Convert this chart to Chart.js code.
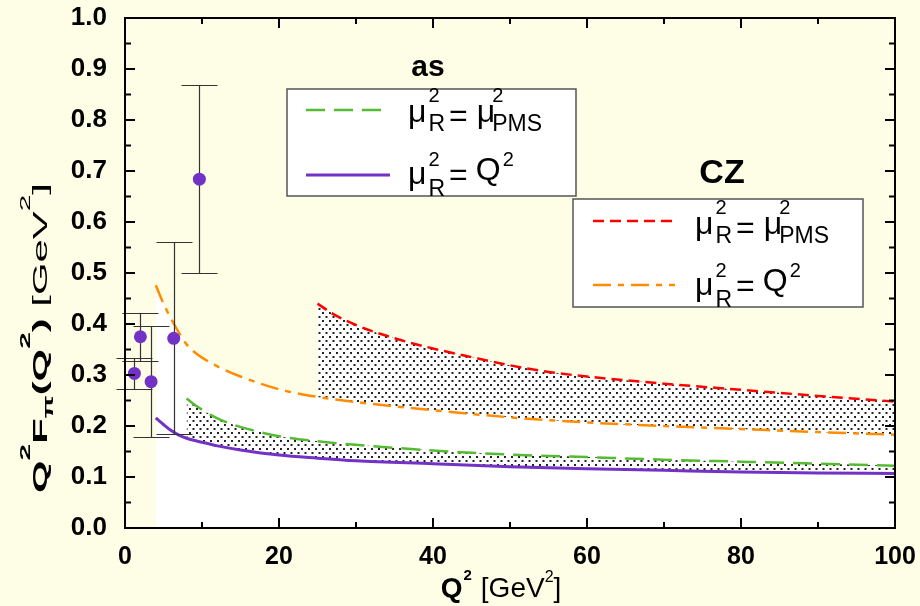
<!DOCTYPE html>
<html>
<head>
<meta charset="utf-8">
<script src="https://cdn.jsdelivr.net/npm/chart.js@4.4.0/dist/chart.umd.min.js"></script>
<style>
  html, body { margin: 0; padding: 0; background: #fefee6; }
</style>
</head>
<body>
<canvas id="ff" width="920" height="606"></canvas>
<script>
// Q^2 F_pi(Q^2) against Q^2, two DA models, two scale settings each

// CZ, mu_R^2 = Q^2
var czQ2x = [4, 5, 6, 7, 8, 9, 10, 12, 15, 20, 25, 30, 40, 50, 60, 70, 80, 90, 100];
var czQ2y = [0.476, 0.440, 0.41, 0.383, 0.36, 0.345, 0.334, 0.317, 0.297, 0.272, 0.257, 0.247, 0.231, 0.217, 0.207, 0.200, 0.194, 0.188, 0.183];
// CZ, mu_R^2 = mu_PMS^2
var czPmsx = [25, 27, 30, 35, 40, 45, 50, 55, 60, 70, 80, 90, 100];
var czPmsy = [0.440, 0.420, 0.398, 0.372, 0.352, 0.335, 0.319, 0.306, 0.297, 0.283, 0.271, 0.259, 0.248];
// as, mu_R^2 = Q^2
var asQ2x = [4, 5, 6, 7, 8, 10, 12, 15, 20, 25, 30, 40, 50, 60, 70, 80, 90, 100];
var asQ2y = [0.216, 0.203, 0.191, 0.182, 0.176, 0.168, 0.161, 0.153, 0.143, 0.137, 0.132, 0.126, 0.120, 0.116, 0.113, 0.110, 0.108, 0.107];
// as, mu_R^2 = mu_PMS^2
var asPmsx = [8, 9, 10, 12, 14, 17, 20, 25, 30, 40, 50, 60, 70, 80, 90, 100];
var asPmsy = [0.254, 0.242, 0.232, 0.215, 0.203, 0.19, 0.180, 0.170, 0.163, 0.152, 0.144, 0.139, 0.134, 0.130, 0.126, 0.122];

// experimental points with error bars
var expX = [1.22, 2.0, 3.39, 6.33, 9.66];
var expY = [0.303, 0.375, 0.287, 0.372, 0.684];
var expHi = [0.333, 0.422, 0.396, 0.561, 0.869];
var expLo = [0.272, 0.327, 0.178, 0.184, 0.5];

var xTicks = [0, 20, 40, 60, 80, 100];
var yTicks = [0, 0.1, 0.2, 0.3, 0.4, 0.5, 0.6, 0.7, 0.8, 0.9, 1.0];

var FAM = "'Liberation Sans', Arial, sans-serif";
var BG = '#fefee6';
var PURPLE = '#7232c6';

function pts(xs, ys) {
  return xs.map(function (x, i) { return { x: x, y: ys[i] }; });
}

var canvas = document.getElementById('ff');
var ctx = canvas.getContext('2d');

// stipple used between the two curves of each model
var tile = document.createElement('canvas');
tile.width = 7; tile.height = 8;
var tg = tile.getContext('2d');
tg.fillStyle = '#fff';
tg.fillRect(0, 0, 7, 8);
tg.fillStyle = '#222';
tg.fillRect(0, 0, 2, 2);
tg.fillRect(3.5, 4, 2, 2);
var stipple = ctx.createPattern(tile, 'repeat');

// text made of pieces: {t, s, b, dy, g} or stacked {up, dn, s1, s2, dy1, dy2, g}
function drawParts(c, x, y, parts, measureOnly) {
  var cx = x;
  parts.forEach(function (p) {
    var w;
    if (p.up !== undefined) {
      c.font = (p.b ? 'bold ' : '') + p.s1 + 'px ' + FAM;
      var w1 = c.measureText(p.up).width, w2 = 0;
      if (!measureOnly) c.fillText(p.up, cx, y + p.dy1);
      if (p.dn) {
        c.font = (p.b ? 'bold ' : '') + p.s2 + 'px ' + FAM;
        w2 = c.measureText(p.dn).width;
        if (!measureOnly) c.fillText(p.dn, cx, y + p.dy2);
      }
      w = Math.max(w1, w2);
    } else {
      c.font = (p.b ? 'bold ' : '') + p.s + 'px ' + FAM;
      w = c.measureText(p.t).width;
      if (!measureOnly) c.fillText(p.t, cx, y + (p.dy || 0));
    }
    cx += w + (p.g || 0);
  });
  return cx - x;
}

var pmsLabel = [
  { t: 'μ', s: 32, g: 2 },
  { up: '2', dn: 'R', s1: 20, s2: 23, dy1: -20, dy2: 9, g: 4 },
  { t: '=', s: 32, dy: 4, g: 9 },
  { t: 'μ', s: 32, g: -3 },
  { up: '2', dn: 'PMS', s1: 20, s2: 23, dy1: -20, dy2: 9 }
];
var q2Label = [
  { t: 'μ', s: 32, dy: 4, g: 2 },
  { up: '2', dn: 'R', s1: 20, s2: 23, dy1: -14, dy2: 16, g: 4 },
  { t: '=', s: 32, dy: 5, g: 8 },
  { t: 'Q', s: 32, g: 2 },
  { up: '2', s1: 20, dy1: -14 }
];
var yTitle = [
  { t: 'Q', s: 21, b: true },
  { up: '2', s1: 15, b: true, dy1: -17 },
  { t: 'F', s: 21, b: true },
  { up: '', dn: 'π', s1: 15, s2: 15, b: true, dy2: 6 },
  { t: '(Q', s: 21, b: true },
  { up: '2', s1: 15, b: true, dy1: -17 },
  { t: ') ', s: 21, b: true },
  { t: '[GeV', s: 21 },
  { up: '2', s1: 15, dy1: -17 },
  { t: ']', s: 21 }
];
var xTitle = [
  { t: 'Q', s: 28, b: true, g: 1 },
  { up: '2', s1: 15, b: true, dy1: -17, g: 9 },
  { t: '[GeV', s: 28 },
  { up: '2', s1: 16, dy1: -15 },
  { t: ']', s: 28 }
];

function legendBox(c, chart, box, title, entries) {
  c.save();
  c.fillStyle = '#fff';
  c.fillRect(box.x, box.y, box.w, box.h);
  c.strokeStyle = '#555';
  c.lineWidth = 1.5;
  c.strokeRect(box.x, box.y, box.w, box.h);
  c.fillStyle = '#000';
  c.textAlign = 'center';
  c.textBaseline = 'alphabetic';
  c.font = 'bold ' + title.s + 'px ' + FAM;
  c.fillText(title.t, title.x, title.y);
  c.textAlign = 'left';
  entries.forEach(function (e) {
    var ds = chart.data.datasets[e.ds];
    c.strokeStyle = ds.borderColor;
    c.lineWidth = ds.borderWidth;
    c.setLineDash(ds.borderDash || []);
    c.beginPath();
    c.moveTo(e.x0, e.ly);
    c.lineTo(e.x1, e.ly);
    c.stroke();
    c.setLineDash([]);
    drawParts(c, e.tx, e.ty, e.parts);
  });
  c.restore();
}

var decor = {
  id: 'decor',
  beforeDraw: function (chart) {
    var c = chart.ctx;
    c.save();
    c.fillStyle = BG;
    c.fillRect(0, 0, chart.width, chart.height);
    c.restore();
  },
  beforeDatasetDraw: function (chart, args) {
    if (args.index !== 4) return;
    var c = chart.ctx, xs = chart.scales.x, ys = chart.scales.y;
    c.save();
    c.strokeStyle = '#333';
    c.lineWidth = 1.2;
    c.beginPath();
    expX.forEach(function (v, i) {
      var px = Math.round(xs.getPixelForValue(v)) + 0.5;
      var hi = Math.round(ys.getPixelForValue(expHi[i])) + 0.5;
      var lo = Math.round(ys.getPixelForValue(expLo[i])) + 0.5;
      c.moveTo(px, hi); c.lineTo(px, lo);
      c.moveTo(px - 18, hi); c.lineTo(px + 18, hi);
      c.moveTo(px - 18, lo); c.lineTo(px + 18, lo);
    });
    c.stroke();
    c.restore();
  },
  afterDatasetsDraw: function (chart) {
    var c = chart.ctx, a = chart.chartArea, xs = chart.scales.x, ys = chart.scales.y;
    c.save();
    c.strokeStyle = '#000';
    c.lineWidth = 2;
    c.strokeRect(a.left, a.top, a.right - a.left, a.bottom - a.top);
    c.beginPath();
    for (var v = 0; v <= 100; v += 10) {
      var px = xs.getPixelForValue(v);
      var len = v % 20 === 0 ? 10 : 6;
      c.moveTo(px, a.bottom); c.lineTo(px, a.bottom - len);
      c.moveTo(px, a.top); c.lineTo(px, a.top + len);
    }
    for (var k = 0; k <= 20; k++) {
      var py = ys.getPixelForValue(k * 0.05);
      var l2 = k % 2 === 0 ? 10 : 6;
      c.moveTo(a.left, py); c.lineTo(a.left + l2, py);
      c.moveTo(a.right, py); c.lineTo(a.right - l2, py);
    }
    c.stroke();
    c.restore();
  },
  afterDraw: function (chart) {
    var c = chart.ctx;
    legendBox(c, chart, { x: 287, y: 89, w: 289, h: 107 },
      { t: 'as', s: 30, x: 428, y: 76 },
      [
        { ds: 3, x0: 306, x1: 386, ly: 110, tx: 408, ty: 122, parts: pmsLabel },
        { ds: 2, x0: 306, x1: 390, ly: 175, tx: 408, ty: 180, parts: q2Label }
      ]);
    legendBox(c, chart, { x: 573, y: 199, w: 290, h: 108 },
      { t: 'CZ', s: 34, x: 722, y: 183 },
      [
        { ds: 1, x0: 593, x1: 678, ly: 221, tx: 695, ty: 234, parts: pmsLabel },
        { ds: 0, x0: 593, x1: 675, ly: 285, tx: 695, ty: 291, parts: q2Label }
      ]);

    c.save();
    c.fillStyle = '#000';
    c.textBaseline = 'alphabetic';
    c.textAlign = 'left';
    // x axis title
    var wx = drawParts(c, 0, 0, xTitle, true);
    drawParts(c, 501 - wx / 2, 597, xTitle);
    // y axis title, stretched along its length
    var wy = drawParts(c, 0, 0, yTitle, true);
    c.translate(47, 338);
    c.rotate(-Math.PI / 2);
    c.scale(310 / wy, 1);
    drawParts(c, -wy / 2, 0, yTitle);
    c.restore();
  }
};

new Chart(canvas, {
  type: 'line',
  data: {
    datasets: [
      {
        label: 'CZ, Q2',
        data: pts(czQ2x, czQ2y),
        borderColor: '#ff8c00',
        borderWidth: 2.5,
        borderDash: [18, 7, 6, 7],
        backgroundColor: '#ffffff',
        fill: 'origin',
        order: 4
      },
      {
        label: 'CZ, PMS',
        data: pts(czPmsx, czPmsy),
        borderColor: '#ff0000',
        borderWidth: 2.5,
        borderDash: [11, 6],
        backgroundColor: stipple,
        fill: { target: 0 },
        order: 3
      },
      {
        label: 'as, Q2',
        data: pts(asQ2x, asQ2y),
        borderColor: PURPLE,
        borderWidth: 3,
        fill: false,
        order: 1
      },
      {
        label: 'as, PMS',
        data: pts(asPmsx, asPmsy),
        borderColor: '#55bb33',
        borderWidth: 2.5,
        borderDash: [19, 9],
        backgroundColor: stipple,
        fill: { target: 2 },
        order: 2
      },
      {
        label: 'data',
        data: pts(expX, expY),
        showLine: false,
        pointRadius: 6.5,
        pointBackgroundColor: PURPLE,
        pointBorderWidth: 0,
        order: 0
      }
    ]
  },
  options: {
    responsive: false,
    devicePixelRatio: 1,
    animation: false,
    layout: { padding: { top: 18, right: 25, left: 0, bottom: 0 } },
    elements: {
      line: { cubicInterpolationMode: 'monotone' },
      point: { radius: 0, hoverRadius: 0 }
    },
    plugins: {
      legend: { display: false },
      tooltip: { enabled: false },
      filler: { drawTime: 'beforeDatasetsDraw' }
    },
    scales: {
      x: {
        type: 'linear',
        min: 0,
        max: 100,
        afterBuildTicks: function (s) { s.ticks = xTicks.map(function (v) { return { value: v }; }); },
        ticks: {
          color: '#000',
          font: { family: FAM, size: 25, weight: 'bold' },
          padding: 14,
          maxRotation: 0
        },
        grid: { display: false, drawTicks: false },
        border: { display: false },
        afterFit: function (s) { s.height = 78; s.paddingLeft = 0; s.paddingRight = 0; }
      },
      y: {
        min: 0,
        max: 1,
        afterBuildTicks: function (s) { s.ticks = yTicks.map(function (v) { return { value: v }; }); },
        ticks: {
          color: '#000',
          font: { family: FAM, size: 26, weight: 'bold' },
          padding: 18,
          callback: function (v) { return Number(v).toFixed(1); }
        },
        grid: { display: false, drawTicks: false },
        border: { display: false },
        afterFit: function (s) { s.width = 125; s.paddingTop = 0; s.paddingBottom = 0; }
      }
    }
  },
  plugins: [decor]
});
</script>
</body>
</html>
